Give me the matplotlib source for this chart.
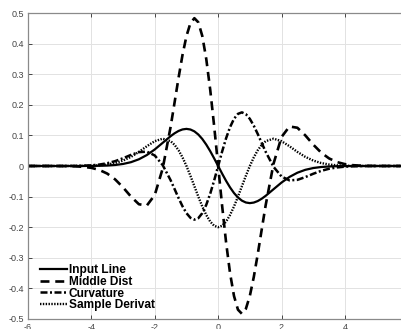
import matplotlib
matplotlib.use("Agg")
import matplotlib.pyplot as plt
from matplotlib.lines import Line2D

plt.rcParams["font.family"] = ["Liberation Sans", "DejaVu Sans"]

# sample positions along the x axis
x = [-6, -5.75, -5.5, -5.25, -5, -4.75, -4.5, -4.25, -4, -3.75, -3.5, -3.25,
     -3, -2.75, -2.5, -2.25, -2, -1.75, -1.5, -1.375, -1.25, -1.125, -1,
     -0.875, -0.75, -0.625, -0.5, -0.375, -0.25, -0.125, 0, 0.125, 0.25,
     0.375, 0.5, 0.625, 0.75, 0.875, 1, 1.125, 1.25, 1.375, 1.5, 1.75, 2,
     2.25, 2.5, 2.75, 3, 3.25, 3.5, 3.75, 4, 4.25, 4.5, 4.75, 5, 5.25, 5.5,
     5.75, 6]

input_line = [0, 0, 0, 0, 0, 0, 0, 0.0001, 0.0003, 0.0007, 0.0015, 0.0033,
              0.0067, 0.0125, 0.0220, 0.0358, 0.0541, 0.0757, 0.0974, 0.1069,
              0.1145, 0.1195, 0.1213, 0.1193, 0.1132, 0.1028, 0.0883, 0.0699,
              0.0485, 0.0248, 0, -0.0248, -0.0485, -0.0699, -0.0883, -0.1028,
              -0.1132, -0.1193, -0.1213, -0.1195, -0.1145, -0.1069, -0.0974,
              -0.0757, -0.0541, -0.0358, -0.0220, -0.0125, -0.0067, -0.0033,
              -0.0015, -0.0007, -0.0003, -0.0001, 0, 0, 0, 0, 0, 0, 0]

middle_dist = [0, 0, 0, 0, -0.0001, -0.0004, -0.0011, -0.0027, -0.0061,
               -0.0128, -0.0248, -0.0438, -0.0700, -0.1001, -0.1250, -0.1292,
               -0.0947, -0.0083, 0.1278, 0.2075, 0.2879, 0.3627, 0.4246,
               0.4667, 0.4830, 0.4695, 0.4247, 0.3498, 0.2491, 0.1296, 0,
               -0.1296, -0.2491, -0.3498, -0.4247, -0.4695, -0.4830, -0.4667,
               -0.4246, -0.3627, -0.2879, -0.2075, -0.1278, 0.0083, 0.0947,
               0.1292, 0.1250, 0.1001, 0.0700, 0.0438, 0.0248, 0.0128, 0.0061,
               0.0027, 0.0011, 0.0004, 0.0001, 0, 0, 0, 0]

curvature = [0, 0, 0, 0, 0, 0.0001, 0.0004, 0.0010, 0.0022, 0.0047, 0.0090,
             0.0159, 0.0254, 0.0363, 0.0453, 0.0469, 0.0344, 0.0030, -0.0464,
             -0.0753, -0.1045, -0.1316, -0.1541, -0.1693, -0.1753, -0.1704,
             -0.1541, -0.1269, -0.0904, -0.0470, 0, 0.0470, 0.0904, 0.1269,
             0.1541, 0.1704, 0.1753, 0.1693, 0.1541, 0.1316, 0.1045, 0.0753,
             0.0464, -0.0030, -0.0344, -0.0469, -0.0453, -0.0363, -0.0254,
             -0.0159, -0.0090, -0.0047, -0.0022, -0.0010, -0.0004, -0.0001,
             0, 0, 0, 0, 0]

sample_derivat = [0, 0, 0, 0, 0, 0.0001, 0.0002, 0.0004, 0.0010, 0.0023,
                  0.0049, 0.0097, 0.0178, 0.0299, 0.0461, 0.0646, 0.0812,
                  0.0892, 0.0812, 0.0692, 0.0515, 0.0282, 0, -0.0320, -0.0660,
                  -0.1003, -0.1324, -0.1602, -0.1817, -0.1953, -0.2000,
                  -0.1953, -0.1817, -0.1602, -0.1324, -0.1003, -0.0660,
                  -0.0320, 0, 0.0282, 0.0515, 0.0692, 0.0812, 0.0892, 0.0812,
                  0.0646, 0.0461, 0.0299, 0.0178, 0.0097, 0.0049, 0.0023,
                  0.0010, 0.0004, 0.0002, 0.0001, 0, 0, 0, 0, 0]

labels = ["Input Line", "Middle Dist", "Curvature", "Sample Derivat"]
x_ticks = [-6, -4, -2, 0, 2, 4]
y_ticks = [-0.5, -0.4, -0.3, -0.2, -0.1, 0, 0.1, 0.2, 0.3, 0.4, 0.5]

fig = plt.figure(figsize=(4.01, 3.29), dpi=100, facecolor="white")
ax = fig.add_axes([28 / 401, 10 / 329, 1 - 28 / 401, 306 / 329])

lw = 1.6
styles = [
    dict(lw=lw),
    dict(lw=lw + 0.3, dashes=(3.4, 2.2)),
    dict(lw=lw + 0.2, dashes=(2.8, 1.0, 0.8, 1.0)),
    dict(lw=lw + 0.1, dashes=(0.6, 0.6)),
]
series = [input_line, middle_dist, curvature, sample_derivat]
for ys, st in zip(series, styles):
    ax.plot(x, ys, color="black", **st)

ax.set_xlim(-6, 5.77)
ax.set_ylim(-0.5, 0.5)
ax.set_xticks(x_ticks)
ax.set_yticks(y_ticks)
ax.set_xticklabels([str(t) for t in x_ticks])
ax.set_yticklabels(["-0.5", "-0.4", "-0.3", "-0.2", "-0.1", "0",
                    "0.1", "0.2", "0.3", "0.4", "0.5"])
ax.grid(True, color="#e2e2e2", lw=0.7)
ax.set_axisbelow(True)
ax.tick_params(direction="in", length=3, width=0.7, colors="#444444",
               labelsize=6.5, pad=3, top=True, right=False)
for side in ["left", "bottom", "top"]:
    ax.spines[side].set_color("#8a8a8a")
    ax.spines[side].set_linewidth(0.9)
ax.spines["right"].set_visible(False)

handles = [Line2D([], [], color="black", **st) for st in styles]
leg = ax.legend(handles, labels, loc="lower left", frameon=False,
                bbox_to_anchor=(0.0, -0.014), handlelength=2.3,
                handletextpad=0.1, labelspacing=-0.02, borderpad=0.5,
                prop={"size": 8.6, "weight": "bold"})
for t in leg.get_texts():
    t.set_color("black")

fig.savefig("out.png", dpi=100, facecolor="white")
